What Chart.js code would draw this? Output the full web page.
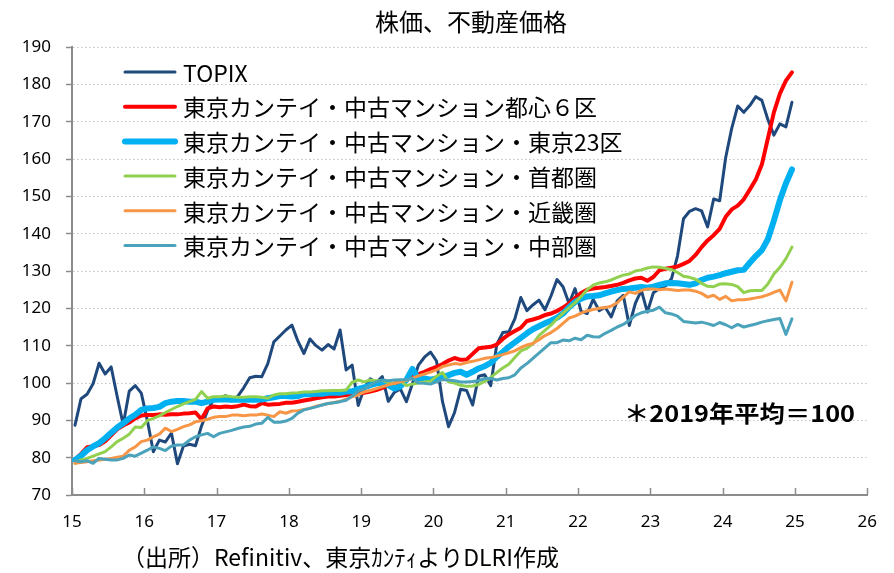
<!DOCTYPE html>
<html>
<head>
<meta charset="utf-8">
<script src="https://cdn.jsdelivr.net/npm/chart.js@4.4.1/dist/chart.umd.min.js"></script>
<style>
html, body { margin: 0; padding: 0; background: #fff; }
#wrap { width: 894px; height: 573px; }
</style>
</head>
<body>
<div id="wrap"><canvas id="chart" width="894" height="573"></canvas></div>
<script>
// Monthly data, Jan 2015 - Dec 2024 (2019 average = 100)
let years = [2015, 2016, 2017, 2018, 2019, 2020, 2021, 2022, 2023, 2024];

let topix = [
    88.7, 95.8, 97.0, 99.8, 105.3, 102.4, 104.3, 96.4, 88.8, 97.8, 99.3, 97.3,
    90.0, 81.6, 84.7, 84.2, 86.6, 78.4, 83.1, 83.6, 83.2, 88.5, 92.6, 95.6,
    95.8, 96.6, 95.2, 96.4, 98.7, 101.4, 101.8, 101.7, 105.2, 111.0, 112.6, 114.2,
    115.5, 111.2, 107.9, 111.8, 110.0, 108.8, 110.3, 109.1, 114.2, 103.5, 104.8, 94.0,
    98.6, 101.1, 100.1, 101.7, 95.1, 97.5, 98.4, 95.0, 99.8, 104.8, 106.9, 108.3,
    105.9, 95.0, 88.3, 92.1, 98.3, 98.0, 94.1, 101.8, 102.2, 99.3, 110.3, 113.5,
    113.7, 117.2, 122.9, 119.4, 120.9, 122.2, 119.6, 123.3, 127.7, 125.8, 121.3, 125.3,
    119.2, 118.6, 122.4, 119.4, 120.3, 117.7, 122.0, 123.5, 115.4, 121.3, 124.8, 119.0,
    124.2, 125.3, 126.0, 127.9, 134.0, 144.0, 146.0, 146.7, 146.1, 141.8, 149.3, 148.8,
    160.4, 168.2, 174.2, 172.5, 174.3, 176.7, 175.7, 170.6, 166.4, 169.4, 168.6, 175.2
];
let toshin6 = [
    79.5, 81.0, 82.8, 83.1, 83.4, 84.4, 86.0, 87.6, 88.6, 89.4, 90.5, 91.3,
    91.4, 91.4, 91.6, 91.5, 91.6, 91.6, 91.8, 91.9, 92.1, 90.3, 93.2, 93.7,
    93.5, 93.7, 93.6, 93.8, 94.2, 93.8, 93.7, 94.6, 94.2, 94.3, 94.4, 94.7,
    94.7, 95.0, 95.3, 95.6, 95.9, 96.2, 96.4, 96.4, 96.6, 96.8, 97.1, 97.3,
    97.4, 97.7, 98.1, 98.7, 99.3, 99.8, 100.3, 100.8, 101.6, 102.4, 103.0, 103.7,
    104.3, 105.1, 106.0, 106.7, 106.2, 106.3, 107.8, 109.3, 109.5, 109.7, 110.3, 111.8,
    113.0, 113.9, 114.8, 116.6, 117.0, 117.5, 118.2, 118.6, 119.3, 120.2, 121.3, 122.8,
    124.1, 125.0, 125.3, 125.5, 125.7, 126.0, 126.3, 126.8, 127.5, 128.0, 128.2, 127.4,
    128.4, 130.2, 130.6, 130.9, 131.2, 131.9, 132.7, 134.3, 136.4, 138.2, 139.6, 141.3,
    144.5, 146.5, 147.5, 149.2, 151.8, 154.5, 158.5, 165.5, 172.5, 177.5, 181.0, 183.2
];
let tokyo23 = [
    79.4, 80.5, 82.0, 83.0, 83.9, 85.2, 86.7, 88.1, 89.2, 90.5, 91.5, 92.8,
    93.2, 93.3, 93.6, 94.6, 95.0, 95.2, 95.2, 95.0, 95.0, 94.6, 95.0, 95.5,
    95.6, 95.6, 95.5, 95.5, 95.5, 95.6, 95.5, 95.6, 95.9, 96.2, 96.5, 96.5,
    96.4, 96.5, 97.0, 97.0, 97.2, 97.1, 97.4, 97.4, 97.4, 97.7, 97.8, 98.4,
    98.8, 99.4, 99.9, 100.0, 99.4, 98.5, 99.1, 100.8, 103.8, 101.2, 101.2, 100.9,
    101.2, 101.6, 102.1, 102.7, 103.0, 102.2, 103.0, 103.9, 104.5, 105.4, 107.0, 108.3,
    109.7, 110.9, 112.1, 113.3, 114.4, 115.2, 116.0, 116.7, 117.5, 118.6, 120.3, 121.7,
    122.6, 123.2, 123.3, 123.5, 124.0, 124.5, 124.9, 125.2, 125.3, 125.5, 125.7, 125.5,
    125.8, 126.3, 126.7, 126.8, 126.7, 126.5, 126.3, 126.7, 127.6, 128.2, 128.5, 128.9,
    129.4, 129.8, 130.2, 130.3, 132.2, 134.0, 135.6, 138.5, 143.5, 149.0, 153.5, 157.2
];
let shutoken = [
    78.5, 79.4, 79.8, 80.4, 81.0, 81.6, 82.9, 84.3, 85.2, 86.3, 88.2, 88.1,
    89.9, 90.5, 91.2, 92.1, 92.9, 93.7, 94.4, 95.0, 95.6, 97.7, 95.9, 96.3,
    96.3, 96.5, 96.3, 96.2, 96.2, 96.3, 96.3, 96.2, 95.9, 96.8, 97.1, 97.1,
    97.3, 97.4, 97.6, 97.6, 97.7, 97.9, 97.9, 98.0, 98.0, 98.1, 100.2, 100.8,
    100.3, 100.8, 100.6, 100.7, 100.1, 99.8, 100.6, 99.3, 99.7, 100.0, 100.3, 100.5,
    101.8, 102.8, 100.3, 100.0, 99.4, 99.1, 99.2, 99.6, 100.4, 101.5, 102.8, 104.0,
    105.0, 106.8, 108.6, 109.3, 110.5, 112.7, 114.1, 115.5, 117.2, 118.7, 120.1, 121.5,
    123.2, 125.0, 126.2, 126.8, 127.1, 127.6, 128.3, 128.9, 129.2, 130.0, 130.3, 130.8,
    131.1, 131.0, 130.7, 130.4, 129.6, 128.6, 128.3, 127.8, 126.7, 125.9, 125.8, 126.5,
    126.6, 126.4, 125.8, 124.2, 124.7, 124.8, 124.8, 126.5, 129.2, 131.0, 133.3, 136.4
];
let kinki = [
    78.5, 78.7, 78.9, 79.2, 79.4, 79.6, 79.8, 80.1, 80.4, 82.0, 82.9, 84.3,
    84.7, 85.6, 86.3, 87.9, 87.0, 87.6, 88.3, 88.8, 89.6, 89.9, 90.3, 90.8,
    91.0, 91.0, 91.4, 91.4, 91.2, 91.4, 91.4, 91.7, 91.4, 91.0, 92.3, 91.9,
    92.5, 92.6, 92.9, 93.2, 93.8, 94.1, 94.5, 94.8, 95.1, 95.7, 96.3, 96.8,
    97.6, 98.0, 98.5, 99.0, 99.5, 99.9, 100.3, 100.7, 101.3, 101.9, 102.4, 102.9,
    103.5, 104.4, 104.8, 105.2, 105.0, 105.5, 105.8, 106.2, 106.6, 106.8, 107.2, 107.6,
    108.1, 108.6, 109.5, 110.2, 110.6, 111.6, 112.7, 113.5, 114.6, 116.0, 117.4, 117.9,
    118.7, 119.3, 119.7, 120.0, 120.2, 120.6, 121.5, 123.0, 124.4, 124.0, 124.8, 125.2,
    125.2, 125.0, 125.2, 125.0, 124.8, 124.9, 124.9, 124.6, 124.0, 123.0, 123.5, 122.4,
    123.2, 122.0, 122.3, 122.3, 122.5, 122.8, 123.1, 123.6, 124.3, 124.9, 122.0, 127.0
];
let chubu = [
    79.2, 78.9, 79.2, 78.5, 79.8, 79.6, 79.4, 79.4, 79.8, 80.7, 80.4, 81.2,
    82.0, 82.9, 82.5, 81.9, 83.1, 83.4, 83.4, 84.7, 85.6, 86.1, 86.5, 85.6,
    86.5, 86.9, 87.3, 87.8, 88.2, 88.4, 89.0, 89.2, 90.8, 89.5, 89.5, 89.8,
    90.5, 91.9, 92.8, 93.2, 93.6, 94.1, 94.5, 94.7, 95.0, 95.4, 96.5, 97.8,
    98.5, 99.4, 100.3, 100.8, 100.6, 100.8, 100.9, 100.9, 101.2, 100.0, 99.9, 99.7,
    100.3, 100.9, 100.8, 100.6, 100.3, 100.3, 100.4, 100.6, 101.2, 101.2, 100.8, 101.2,
    101.4, 102.2, 104.0, 105.2, 106.6, 108.0, 109.4, 110.8, 110.8, 111.5, 111.3, 112.0,
    111.6, 112.8, 112.4, 112.3, 113.3, 114.1, 115.0, 115.7, 116.8, 118.1, 118.8, 119.2,
    119.5, 120.3, 118.8, 118.5, 117.9, 116.5, 116.3, 116.1, 116.3, 115.9, 115.4, 116.2,
    115.6, 114.8, 115.7, 115.0, 115.4, 115.8, 116.3, 116.7, 117.0, 117.3, 113.0, 117.2
];

let seriesLabels = [
    "TOPIX",
    "東京カンテイ・中古マンション都心６区",
    "東京カンテイ・中古マンション・東京23区",
    "東京カンテイ・中古マンション・首都圏",
    "東京カンテイ・中古マンション・近畿圏",
    "東京カンテイ・中古マンション・中部圏"
];
let xTicks = [15, 16, 17, 18, 19, 20, 21, 22, 23, 24, 25, 26];
let yTicks = [70, 80, 90, 100, 110, 120, 130, 140, 150, 160, 170, 180, 190];

let titleText = "株価、不動産価格";
let noteText = "＊2019年平均＝100";
let sourceText = "（出所）Refinitiv、東京ｶﾝﾃｨよりDLRI作成";

// x position of every month on the year axis (15 = 2015)
let monthX = [];
years.forEach(function (yr) {
    for (let m = 0; m < 12; m++) {
        monthX.push(yr - 2000 + (m + 0.5) / 12);
    }
});

function toPoints(values) {
    return values.map(function (v, i) { return { x: monthX[i], y: v }; });
}

let axisColor = "#8c8c8c";
let jpFont = "'Noto Sans CJK JP', 'Noto Sans', sans-serif";

// Styles of the lines (TOPIX at the bottom, 中部圏 on top)
let styles = [
    { color: "#1f497d", width: 3 },
    { color: "#ff0000", width: 4 },
    { color: "#00b0f0", width: 6 },
    { color: "#92d050", width: 3 },
    { color: "#f79646", width: 3 },
    { color: "#4aa3bb", width: 3 }
];
let allValues = [topix, toshin6, tokyo23, shutoken, kinki, chubu];

let datasets = allValues.map(function (values, k) {
    return {
        label: seriesLabels[k],
        data: toPoints(values),
        borderColor: styles[k].color,
        backgroundColor: styles[k].color,
        borderWidth: styles[k].width,
        borderJoinStyle: "round",
        borderCapStyle: "round",
        pointRadius: 0,
        tension: 0,
        order: 6 - k
    };
});

// Texts, legend and inward x ticks
let extras = {
    id: "extras",
    afterDraw: function (chart) {
        let ctx = chart.ctx;
        let area = chart.chartArea;
        let xScale = chart.scales.x;
        ctx.save();

        // Tick marks on the x axis point into the plot
        ctx.strokeStyle = axisColor;
        ctx.lineWidth = 1.5;
        xTicks.forEach(function (t) {
            let px = Math.round(xScale.getPixelForValue(t)) + 0.5;
            ctx.beginPath();
            ctx.moveTo(px, area.bottom);
            ctx.lineTo(px, area.bottom - 7);
            ctx.stroke();
        });

        // Legend inside the plot
        ctx.font = "23px " + jpFont;
        ctx.textBaseline = "middle";
        ctx.textAlign = "left";
        ctx.lineCap = "round";
        for (let k = 0; k < seriesLabels.length; k++) {
            let y = 72 + k * 34.7;
            ctx.strokeStyle = styles[k].color;
            ctx.lineWidth = styles[k].width;
            ctx.beginPath();
            ctx.moveTo(125, y);
            ctx.lineTo(175, y);
            ctx.stroke();
            ctx.fillStyle = "#000";
            ctx.fillText(seriesLabels[k], 183, y + 1);
        }

        // Title
        ctx.fillStyle = "#000";
        ctx.font = "24px " + jpFont;
        ctx.textAlign = "center";
        ctx.fillText(titleText, 471, 22);

        // Note about the base
        ctx.textAlign = "left";
        ctx.save();
        ctx.font = "bold 23px " + jpFont;
        ctx.translate(624, 413);
        ctx.scale(1.1, 1);
        ctx.fillText(noteText, 0, 0);
        ctx.restore();

        // Source
        ctx.font = "23px " + jpFont;
        ctx.translate(122, 557);
        ctx.fillText(sourceText, 0, 0);

        ctx.restore();
    }
};

let chart = new Chart(document.getElementById("chart").getContext("2d"), {
    type: "line",
    data: { datasets: datasets },
    options: {
        responsive: false,
        animation: false,
        layout: { padding: { left: 0, right: 25, top: 47, bottom: 0 } },
        plugins: {
            legend: { display: false },
            tooltip: { enabled: false }
        },
        scales: {
            x: {
                type: "linear",
                min: 15,
                max: 26,
                afterBuildTicks: function (scale) {
                    scale.ticks = xTicks.map(function (v) { return { value: v }; });
                },
                afterFit: function (scale) { scale.height = 78; },
                grid: { display: true, drawOnChartArea: false, drawTicks: false },
                border: { color: axisColor, width: 2 },
                ticks: {
                    padding: 17,
                    color: "#000",
                    font: { family: "'Noto Sans', sans-serif", size: 17 }
                }
            },
            y: {
                min: 70,
                max: 190,
                afterBuildTicks: function (scale) {
                    scale.ticks = yTicks.map(function (v) { return { value: v }; });
                },
                afterFit: function (scale) { scale.width = 72; },
                grid: {
                    color: "#c4c4c4",
                    lineWidth: 1,
                    tickColor: axisColor,
                    tickLength: 6,
                    tickWidth: 1.5
                },
                border: { color: axisColor, width: 2, dash: [1.5, 2.5] },
                ticks: {
                    padding: 15,
                    color: "#000",
                    font: { family: "'Noto Sans', sans-serif", size: 17 }
                }
            }
        }
    },
    plugins: [extras]
});
</script>
</body>
</html>
